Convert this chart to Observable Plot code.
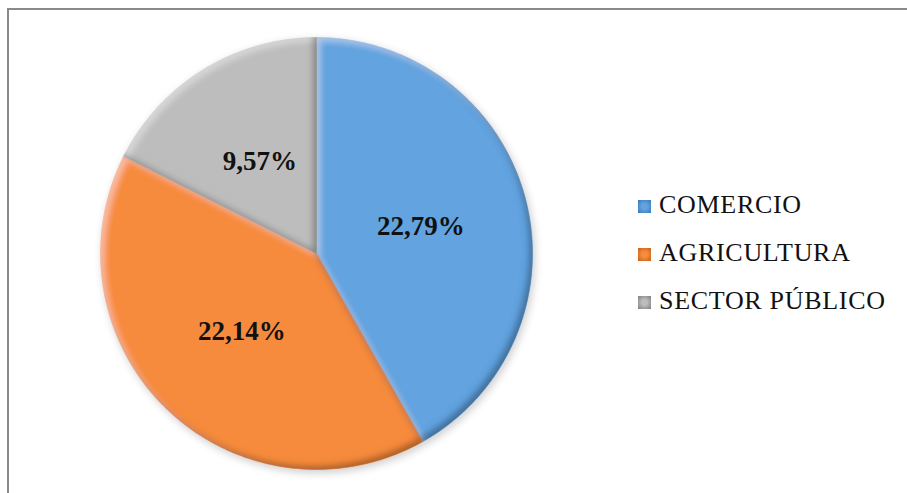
<!DOCTYPE html>
<html>
<head>
<meta charset="utf-8">
<script src="https://cdn.jsdelivr.net/npm/d3@7"></script>
<script src="https://cdn.jsdelivr.net/npm/@observablehq/plot@0.6"></script>
<style>
  html, body { margin: 0; padding: 0; background: #fff; }
  #wrap { position: relative; width: 907px; height: 493px; overflow: hidden; }
  #frame { position: absolute; left: 7px; top: 8px; right: -10px; bottom: -10px;
           border-left: 2px solid #8a8a8a; border-top: 2px solid #8a8a8a; pointer-events: none; }
  #legend { position: absolute; left: 638px; top: 181px; font-family: "Times New Roman", "Liberation Serif", "DejaVu Serif", serif;
            font-size: 26px; letter-spacing: 0.7px; color: #111; }
  #legend .item { line-height: 48px; height: 48px; white-space: nowrap; }
  #legend .sw { display: inline-block; width: 13px; height: 13px; margin-right: 8px; vertical-align: baseline; }
</style>
</head>
<body>
<div id="wrap">
  <div id="chart"></div>
  <div id="legend"></div>
  <div id="frame"></div>
</div>
<script>
const categories = ["COMERCIO", "AGRICULTURA", "SECTOR PÚBLICO"];
const values = [22.79, 22.14, 9.57];
const labels = ["22,79%", "22,14%", "9,57%"];
const colors = ["#62A3E0", "#F78B3C", "#BDBDBD"];
const swatchDark = ["#3a78b8", "#c45f18", "#7d7d7d"];

const arcs = d3.pie().sort(null).value(d => d)(values);

// polygon outline of each slice (unit circle, angle 0 at top, clockwise)
const poly = [];
arcs.forEach((a, i) => {
  const cat = categories[i];
  poly.push({cat, x: 0, y: 0});
  const steps = Math.max(2, Math.ceil((a.endAngle - a.startAngle) / (Math.PI / 180)));
  for (let k = 0; k <= steps; k++) {
    const t = a.startAngle + (a.endAngle - a.startAngle) * k / steps;
    poly.push({cat, x: Math.sin(t), y: Math.cos(t)});
  }
  poly.push({cat, x: 0, y: 0});
});

const labelData = arcs.map((a, i) => {
  const m = (a.startAngle + a.endAngle) / 2;
  return {text: labels[i], x: 0.5 * Math.sin(m), y: 0.5 * Math.cos(m)};
});

const chart = Plot.plot({
  width: 907,
  height: 493,
  margin: 0,
  style: {background: "transparent", overflow: "visible"},
  x: {domain: [-1, 1], range: [100, 532], axis: null},
  y: {domain: [-1, 1], range: [469, 37], axis: null},
  color: {domain: categories, range: colors},
  marks: [
    Plot.line(poly, {x: "x", y: "y", z: "cat", fill: "cat", stroke: "cat", strokeWidth: 0.5, curve: "linear", className: "slice"}),
    Plot.text(labelData, {x: "x", y: "y", text: "text", fontSize: 27, fontWeight: "bold",
      fontFamily: "Times New Roman, Liberation Serif, DejaVu Serif, serif", fill: "#111"})
  ]
});

// bevel / shading filter
const svg = d3.select(chart);
const defs = svg.insert("defs", ":first-child");
const f = defs.append("filter").attr("id", "bevel").attr("x", "-10%").attr("y", "-10%").attr("width", "120%").attr("height", "120%");
f.append("feGaussianBlur").attr("in", "SourceAlpha").attr("stdDeviation", 3).attr("result", "blur");
// dark rim on bottom/right sides
f.append("feOffset").attr("in", "blur").attr("dx", -4).attr("dy", -4).attr("result", "offD");
f.append("feComposite").attr("in", "SourceAlpha").attr("in2", "offD").attr("operator", "out").attr("result", "rimD");
f.append("feFlood").attr("flood-color", "#000").attr("flood-opacity", 0.55).attr("result", "dark");
f.append("feComposite").attr("in", "dark").attr("in2", "rimD").attr("operator", "in").attr("result", "darkEdge");
// light rim on top/left sides
f.append("feOffset").attr("in", "blur").attr("dx", 4).attr("dy", 4).attr("result", "offL");
f.append("feComposite").attr("in", "SourceAlpha").attr("in2", "offL").attr("operator", "out").attr("result", "rimL");
f.append("feFlood").attr("flood-color", "#fff").attr("flood-opacity", 0.35).attr("result", "light");
f.append("feComposite").attr("in", "light").attr("in2", "rimL").attr("operator", "in").attr("result", "lightEdge");
const mg = f.append("feMerge");
mg.append("feMergeNode").attr("in", "SourceGraphic");
mg.append("feMergeNode").attr("in", "lightEdge");
mg.append("feMergeNode").attr("in", "darkEdge");

const sh = defs.append("filter").attr("id", "shadow").attr("x", "-10%").attr("y", "-10%").attr("width", "120%").attr("height", "120%");
sh.append("feGaussianBlur").attr("in", "SourceAlpha").attr("stdDeviation", 4);
sh.append("feOffset").attr("dx", 2).attr("dy", 3).attr("result", "ob");
sh.append("feComponentTransfer").append("feFuncA").attr("type", "linear").attr("slope", 0.2);
const sm = sh.append("feMerge");
sm.append("feMergeNode");
sm.append("feMergeNode").attr("in", "SourceGraphic");

svg.selectAll("g.slice").attr("filter", "url(#shadow)");
svg.selectAll("g.slice path").attr("filter", "url(#bevel)");

document.getElementById("chart").appendChild(chart);

// legend
const legend = d3.select("#legend");
categories.forEach((c, i) => {
  const it = legend.append("div").attr("class", "item");
  it.append("span").attr("class", "sw")
    .style("background", `radial-gradient(circle at 50% 50%, ${colors[i]} 30%, ${swatchDark[i]} 100%)`);
  it.append("span").text(c);
});
</script>
</body>
</html>
